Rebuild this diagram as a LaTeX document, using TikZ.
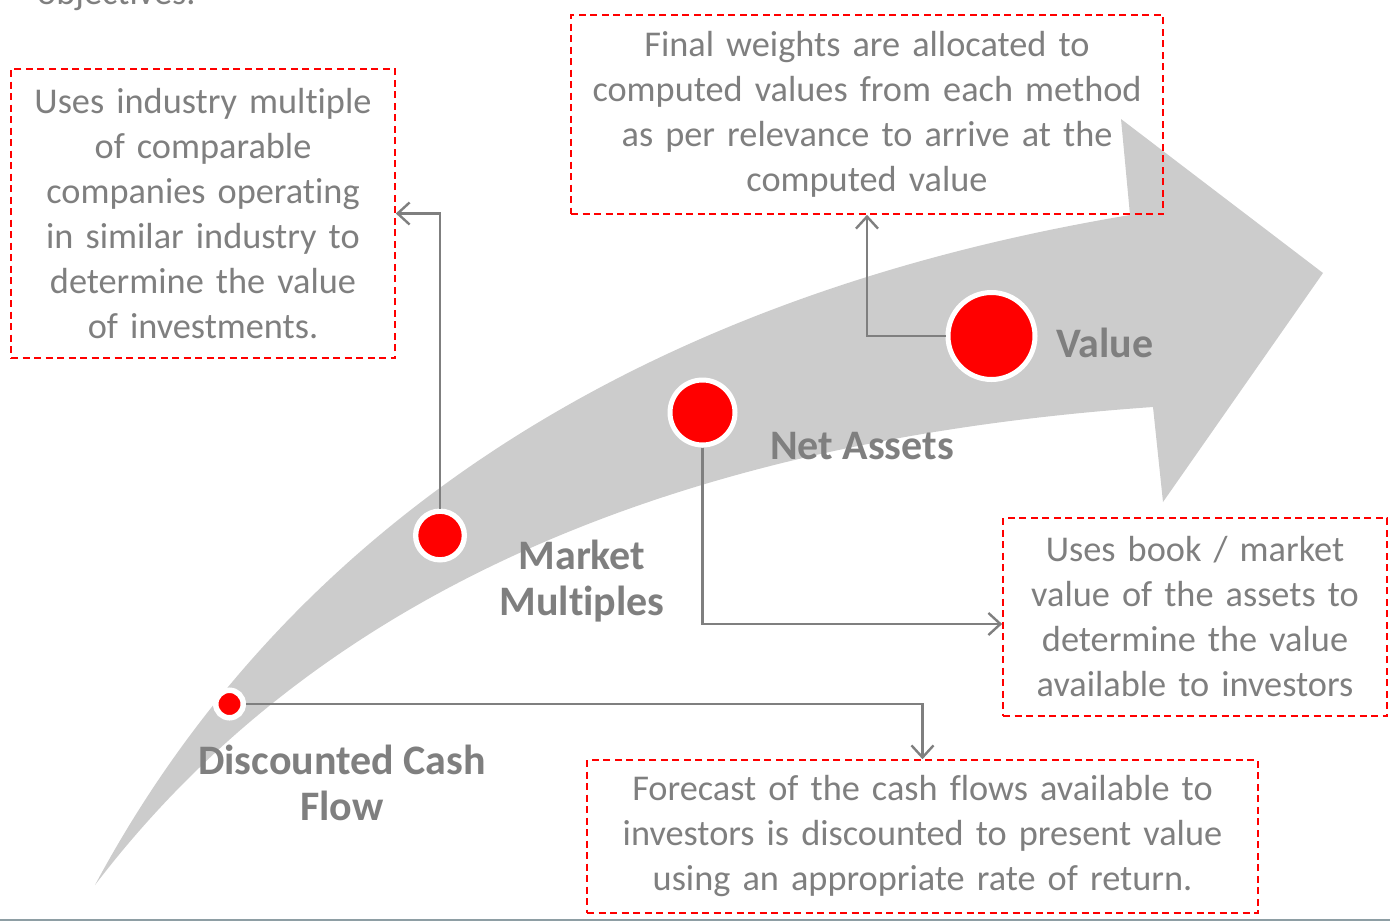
\documentclass[tikz,border=0pt]{standalone}
\usepackage{fontspec}
\setmainfont{Carlito}[Ligatures=NoCommon]
\usetikzlibrary{arrows.meta}
\definecolor{bandgray}{HTML}{CCCCCC}
\definecolor{txtgray}{HTML}{7F7F7F}
\definecolor{rulegray}{HTML}{8E9EA4}

\begin{document}
\begin{tikzpicture}[x=1pt, y=-1pt,
    note/.style={draw=red, line width=1.6pt, dash pattern=on 7pt off 4.5pt, inner sep=0pt,
      text=txtgray, align=center, font=\fontsize{36.3}{45}\selectfont},
    dot/.style={circle, fill=red, draw=white, inner sep=0pt},
    tag/.style={text=txtgray, align=center, font=\bfseries\fontsize{42}{46}\selectfont},
    link/.style={draw=txtgray, line width=2.4pt, -{Straight Barb[length=12pt,width=22pt]}}]
\useasboundingbox (0,0) rectangle (1390,922);
% Heading cut off at the top
    \node[anchor=base west, inner sep=0pt, text=txtgray, font=\fontsize{36.3}{45}\selectfont] (head) at (37,4) {objectives.};
% Curved arrow
    \fill[bandgray] (95,885) .. controls (280,540) and (620,300) .. (1130,215)
        -- (1121,119) -- (1323,273) -- (1163,502) -- (1153,407)
        .. controls (680,440) and (320,590) .. cycle;
% Steps on the arrow
    \node[dot, line width=5.5pt, minimum size=27.5pt] (dcf) at (229.5,704) {};
    \node[dot, line width=5.3pt, minimum size=48.7pt] (mm) at (440,535.5) {};
    \node[dot, line width=5pt, minimum size=65pt] (na) at (702.5,412.5) {};
    \node[dot, line width=5pt, minimum size=87pt] (val) at (991.5,336) {};
    \node[tag] (dcflab) at (342,783) {Discounted Cash\\Flow};
    \node[tag] (mmlab) at (582,581) {Market\\Multiples};
    \node[tag] (nalab) at (862,446) {Net Assets};
    \node[tag] (vallab) at (1105,343) {Value};
% Explanations
    \node[note, text width=384pt, minimum height=289pt] (mmbox) at (203,213.5)
        {Uses industry multiple\\of comparable\\companies operating\\in similar industry to\\determine the value\\of investments.};
    \node[note, text width=592pt, minimum height=199pt] (valbox) at (867,114.5)
        {Final weights are allocated to\\computed values from each method\\as per relevance to arrive at the\\computed value};
    \node[note, text width=384pt, minimum height=198pt] (nabox) at (1195,617)
        {Uses book / market\\value of the assets to\\determine the value\\available to investors};
    \node[note, text width=671pt, minimum height=153pt] (dcfbox) at (922.5,836.5)
        {Forecast of the cash flows available to\\investors is discounted to present value\\using an appropriate rate of return.};
% Connectors
    \draw[link] (dcf.east) -| (dcfbox.north);
    \draw[link] (mm.north) |- (mmbox.east);
    \draw[link] (na.south) |- ([yshift=-7pt]nabox.west);
    \draw[link] (val.west) -| (valbox.south);
% Rule at the foot
    \draw[rulegray, line width=2pt] (0,920) -- (1390,920);
\end{tikzpicture}
\end{document}
